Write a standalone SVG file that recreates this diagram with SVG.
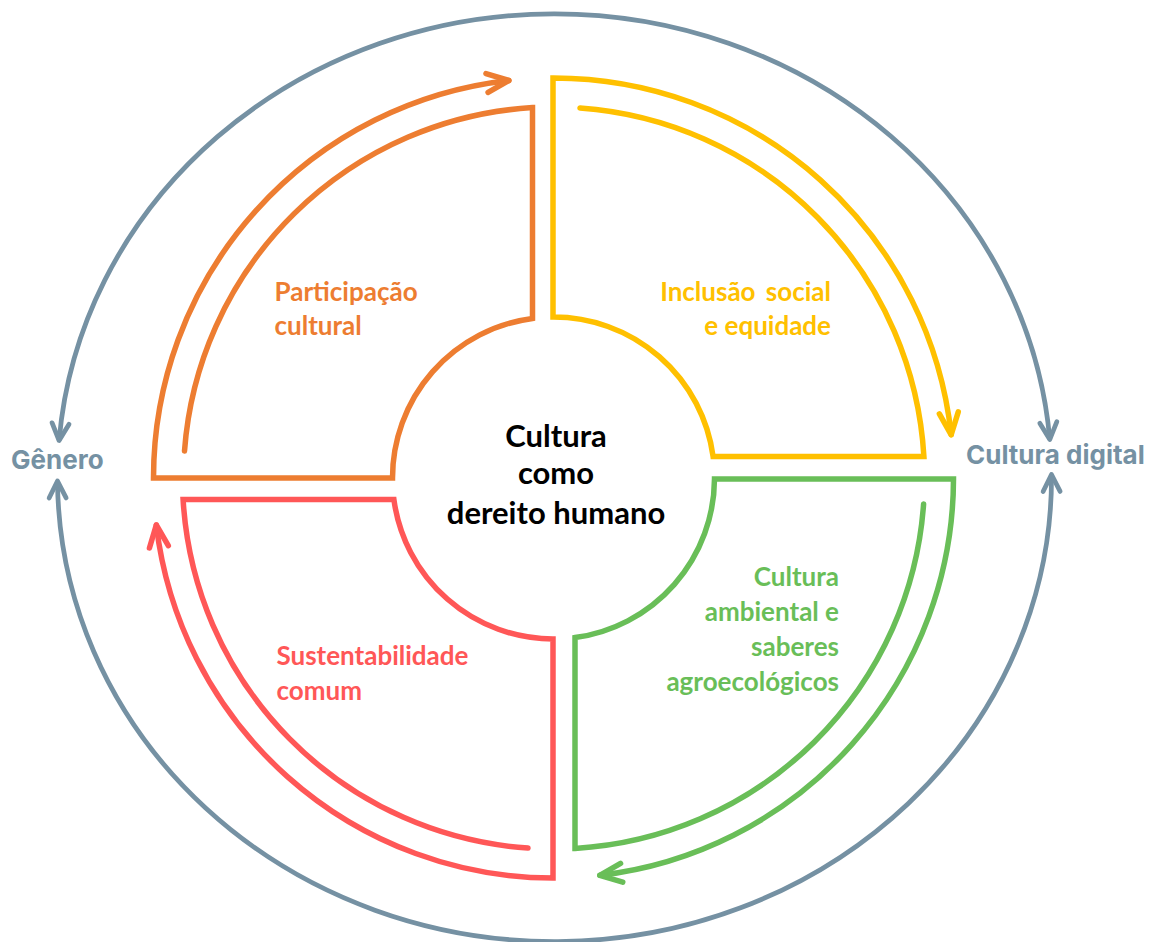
<svg xmlns="http://www.w3.org/2000/svg" width="1151" height="942" viewBox="0 0 1151 942">
<defs>
<style>
.q { fill: none; stroke-width: 5.5; stroke-linecap: round; stroke-linejoin: miter; }
.gl { fill: none; stroke: #7591A3; stroke-width: 4.75; }
.lbl { font-family: Lato, "Noto Sans", sans-serif; font-weight: 700; font-size: 26px; }
.ctr { font-family: Lato, "Noto Sans", sans-serif; font-weight: 700; font-size: 31px; fill: #000; text-anchor: middle; }
.side { font-family: Inter, "Noto Sans", sans-serif; font-weight: 700; font-size: 26px; fill: #7591A3; }
.head { fill: none; stroke-width: 5.5; stroke-linecap: round; stroke-linejoin: round; }
</style>
<marker id="ahO" markerUnits="userSpaceOnUse" markerWidth="40" markerHeight="40" refX="0" refY="0" orient="auto" overflow="visible">
<path class="head" d="M -22,-9.5 L 0,0 L -22,9.5" stroke="#ED7D31"/>
</marker>
<marker id="ahY" markerUnits="userSpaceOnUse" markerWidth="40" markerHeight="40" refX="0" refY="0" orient="auto" overflow="visible">
<path class="head" d="M -22,-9.5 L 0,0 L -22,9.5" stroke="#FFC000"/>
</marker>
<marker id="ahG" markerUnits="userSpaceOnUse" markerWidth="40" markerHeight="40" refX="0" refY="0" orient="auto" overflow="visible">
<path class="head" d="M -22,-9.5 L 0,0 L -22,9.5" stroke="#69BE58"/>
</marker>
<marker id="ahR" markerUnits="userSpaceOnUse" markerWidth="40" markerHeight="40" refX="0" refY="0" orient="auto" overflow="visible">
<path class="head" d="M -22,-9.5 L 0,0 L -22,9.5" stroke="#FF5757"/>
</marker>
<marker id="ahGray" markerUnits="userSpaceOnUse" markerWidth="40" markerHeight="40" refX="0" refY="0" orient="auto-start-reverse" overflow="visible">
<path d="M -17,-8.5 L 0,0 L -17,8.5" fill="none" stroke="#7591A3" stroke-width="4.75" stroke-linecap="round" stroke-linejoin="round"/>
</marker>
</defs>
<rect width="1151" height="942" fill="#FFFFFF"/>

<g id="connectors">
<path class="gl" d="M 59.1,440.5 A 497 464 0 0 1 1049.8,439.5" marker-start="url(#ahGray)" marker-end="url(#ahGray)"/>
<path class="gl" d="M 57.5,481 A 497 464 0 0 0 1051.5,474.5" marker-start="url(#ahGray)" marker-end="url(#ahGray)"/>
</g>

<g id="participacao-cultural">
<path class="q" stroke="#ED7D31" d="M 184.5,451 A 371 371 0 0 1 532.5,107.6 L 532.5,318.4 A 161 161 0 0 0 392.5,478 L 153.5,478 A 400 400 0 0 1 508.9,80.5" marker-end="url(#ahO)"/>
<text class="lbl" fill="#ED7D31" x="274.5" y="301">Participação</text>
<text class="lbl" fill="#ED7D31" x="274.5" y="335">cultural</text>
</g>

<g id="inclusao-social">
<path class="q" stroke="#FFC000" d="M 580,108 A 371 371 0 0 1 923.9,456.5 L 713.1,456.5 A 161 161 0 0 0 553,317 L 553,78 A 400 400 0 0 1 951.2,434.8" marker-end="url(#ahY)"/>
<text class="lbl" fill="#FFC000" x="831" y="301" text-anchor="end" word-spacing="4">Inclusão social</text>
<text class="lbl" fill="#FFC000" x="831" y="335" text-anchor="end">e equidade</text>
</g>

<g id="cultura-ambiental">
<path class="q" stroke="#69BE58" d="M 923.6,504 A 371 371 0 0 1 575,848.4 L 575,637.6 A 161 161 0 0 0 714.5,479 L 953.5,479 A 400 400 0 0 1 599.8,875.3" marker-end="url(#ahG)"/>
<text class="lbl" fill="#69BE58" x="839" y="586" text-anchor="end">Cultura</text>
<text class="lbl" fill="#69BE58" x="839" y="621" text-anchor="end">ambiental e</text>
<text class="lbl" fill="#69BE58" x="839" y="656" text-anchor="end">saberes</text>
<text class="lbl" fill="#69BE58" x="839" y="691" text-anchor="end">agroecológicos</text>
</g>

<g id="sustentabilidade-comum">
<path class="q" stroke="#FF5757" d="M 528,848.1 A 371 371 0 0 1 183.1,499.5 L 393.9,499.5 A 161 161 0 0 0 553,639 L 553,878 A 400 400 0 0 1 156.3,525" marker-end="url(#ahR)"/>
<text class="lbl" fill="#FF5757" x="276.5" y="665">Sustentabilidade</text>
<text class="lbl" fill="#FF5757" x="276.5" y="700">comum</text>
</g>

<g id="centro">
<text class="ctr" x="556" y="447">Cultura</text>
<text class="ctr" x="556" y="484">como</text>
<text class="ctr" x="556" y="524">dereito humano</text>
</g>

<g id="genero">
<text class="side" x="11" y="469">Gênero</text>
</g>

<g id="cultura-digital">
<text class="side" x="966" y="464">Cultura digital</text>
</g>
</svg>
